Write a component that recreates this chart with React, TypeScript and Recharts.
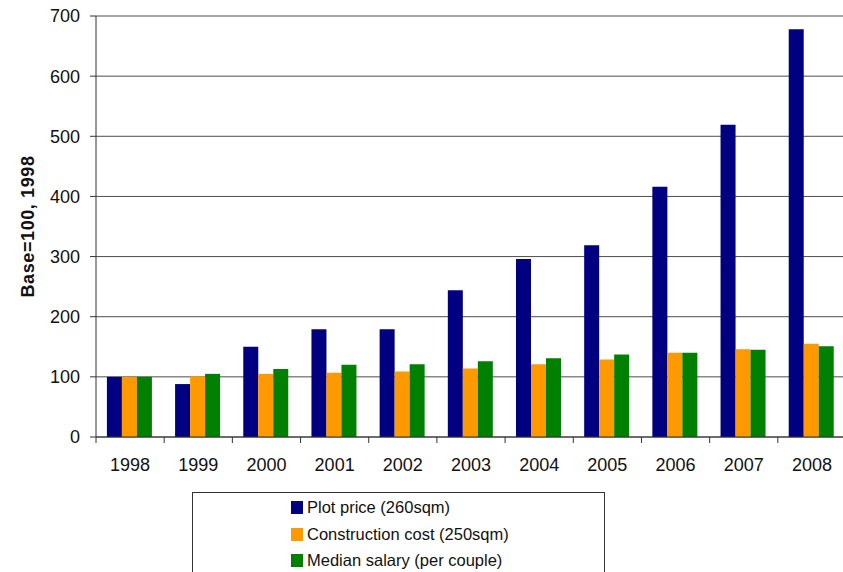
import React from "react";
import { BarChart, Bar, XAxis, YAxis, CartesianGrid } from "recharts";

const years = ["1998", "1999", "2000", "2001", "2002", "2003", "2004", "2005", "2006", "2007", "2008"];
const plotPrice = [100, 88, 150, 179, 179, 244, 296, 319, 416, 519, 678];
const constructionCost = [100, 101, 105, 107, 109, 114, 121, 129, 140, 146, 155];
const medianSalary = [100, 105, 113, 120, 121, 126, 131, 137, 140, 145, 151];
const yTicks = [0, 100, 200, 300, 400, 500, 600, 700];

const NAVY = "#000080";
const ORANGE = "#FF9900";
const GREEN = "#008000";
const FONT = "'Liberation Sans', Arial, sans-serif";

const series = [
  { key: "plot", name: "Plot price (260sqm)", color: NAVY },
  { key: "construction", name: "Construction cost (250sqm)", color: ORANGE },
  { key: "salary", name: "Median salary (per couple)", color: GREEN },
];

const data = years.map((year, i) => ({
  year,
  plot: plotPrice[i],
  construction: constructionCost[i],
  salary: medianSalary[i],
}));

// Excel-style category axis: tick marks sit on the boundaries between years
function YearTick(props: any) {
  const { x, y, payload } = props;
  const half = payload?.offset ?? 34;
  return (
    <g>
      <line x1={x - half} y1={y} x2={x - half} y2={y + 6} stroke="#333" strokeWidth={1} />
      <text x={x} y={y + 34} textAnchor="middle" fill="#111" fontSize={18} fontFamily={FONT}>
        {payload.value}
      </text>
    </g>
  );
}

function AxisTitle(props: any) {
  const vb = props.viewBox || {};
  const cx = 28;
  const cy = (vb.y ?? 16) + (vb.height ?? 421) / 2;
  return (
    <text
      x={cx}
      y={cy}
      transform={`rotate(-90, ${cx}, ${cy})`}
      textAnchor="middle"
      dominantBaseline="central"
      fontSize={18}
      fontWeight="bold"
      letterSpacing={0.6}
      fontFamily={FONT}
      fill="#111"
    >
      Base=100, 1998
    </text>
  );
}

export default function App() {
  return (
    <div style={{ position: "absolute", left: 0, top: 0, width: 843, height: 572, overflow: "hidden", background: "#fff" }}>
      <BarChart
        width={846}
        height={572}
        data={data}
        margin={{ top: 16, right: 0, bottom: 105, left: 0 }}
        barCategoryGap="16%"
        barGap={0}
      >
        <CartesianGrid vertical={false} stroke="#4d4d4d" strokeWidth={1} />
        <XAxis
          dataKey="year"
          height={30}
          tickSize={0}
          tickMargin={0}
          tickLine={false}
          axisLine={{ stroke: "#333" }}
          tick={<YearTick />}
          interval={0}
        />
        <YAxis
          width={96}
          domain={[0, 700]}
          ticks={yTicks}
          tickSize={6}
          tickMargin={10}
          axisLine={{ stroke: "#333" }}
          tickLine={{ stroke: "#333" }}
          tick={{ fill: "#111", fontSize: 18, fontFamily: FONT }}
          label={<AxisTitle />}
        />
        {series.map((s) => (
          <Bar key={s.key} dataKey={s.key} name={s.name} fill={s.color} isAnimationActive={false} />
        ))}
      </BarChart>

      <div
        style={{
          position: "absolute",
          left: 192,
          top: 492,
          width: 413,
          height: 100,
          border: "1px solid #333",
          boxSizing: "border-box",
          background: "#fff",
          fontFamily: FONT,
          fontSize: 16.5,
          color: "#111",
        }}
      >
        {series.map((s, i) => (
          <div
            key={s.key}
            style={{
              position: "absolute",
              left: 98,
              top: 8 + i * 26.5,
              display: "flex",
              alignItems: "center",
              height: 13,
              whiteSpace: "nowrap",
            }}
          >
            <span style={{ display: "inline-block", width: 12, height: 13, background: s.color, marginRight: 4 }} />
            <span>{s.name}</span>
          </div>
        ))}
      </div>
    </div>
  );
}
